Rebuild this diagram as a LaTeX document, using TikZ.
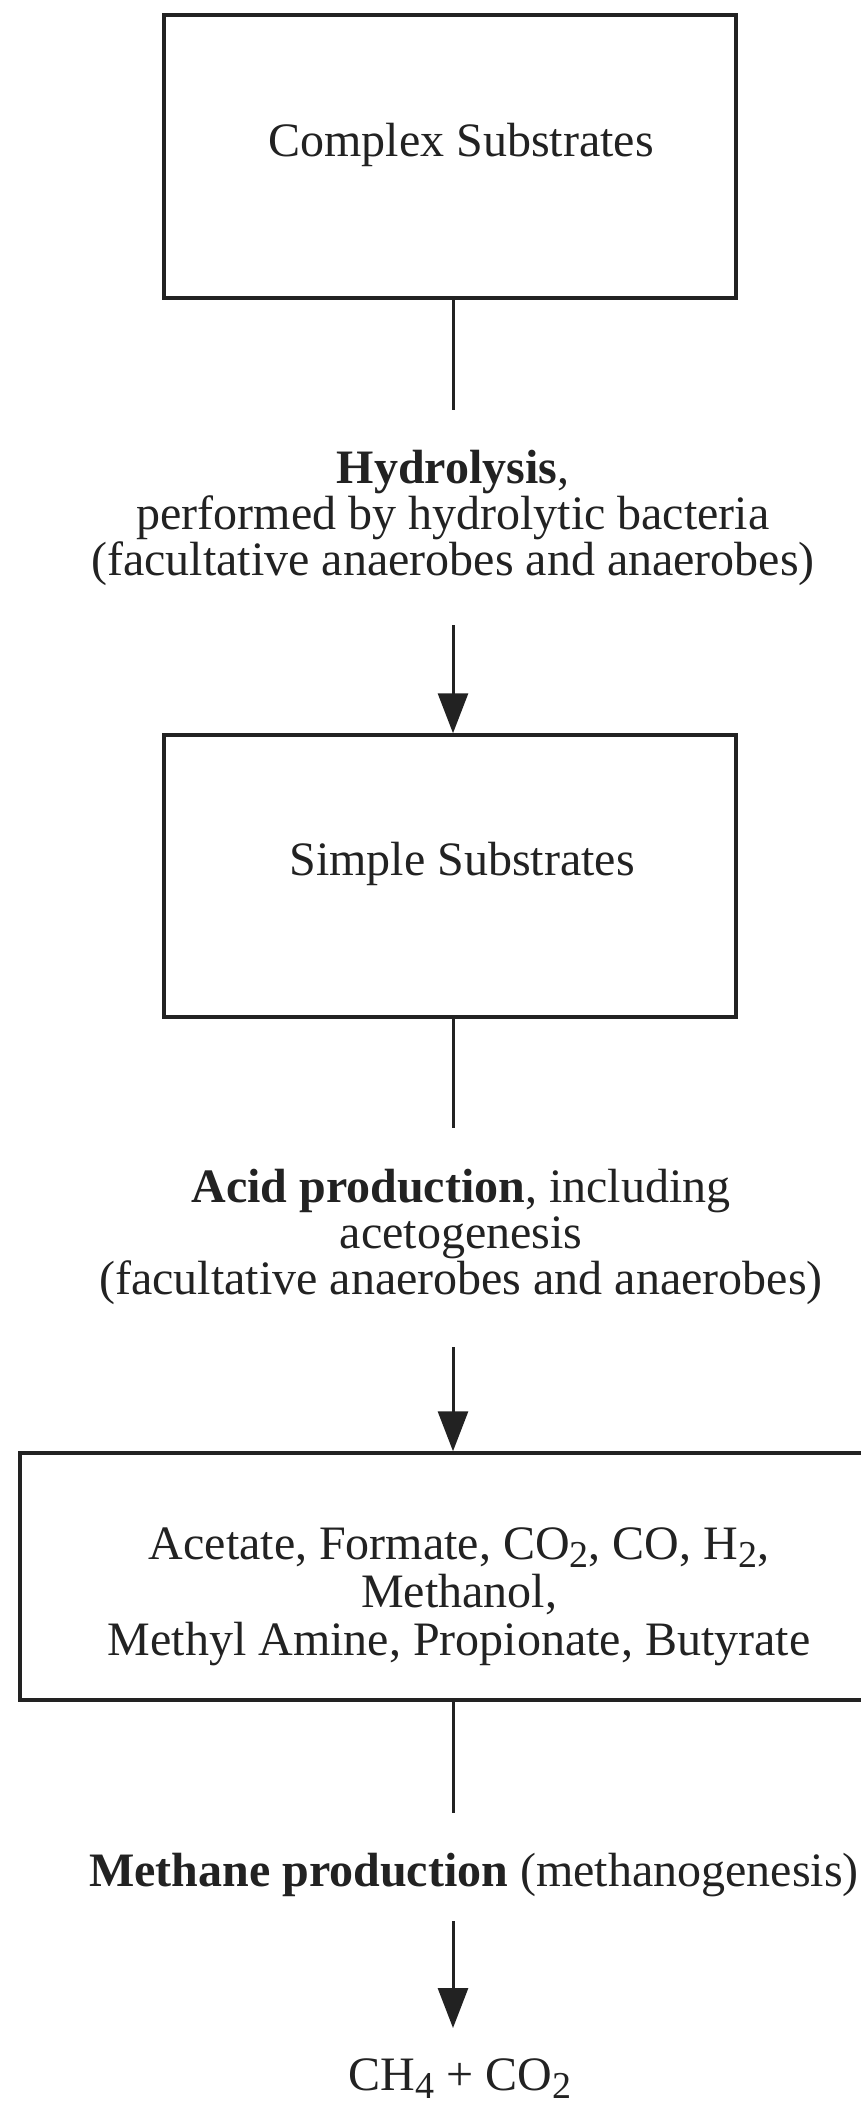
\documentclass[tikz,border=0pt]{standalone}
\usepackage{fontspec}
\setmainfont{Liberation Serif}
\usetikzlibrary{arrows.meta}
\definecolor{ink}{HTML}{222222}
\newcommand{\lowsub}[1]{\raisebox{-0.17em}{\fontsize{38}{38}\selectfont #1}}
\tikzset{
  stagebox/.style={draw=ink, line width=3.5pt, minimum width=#1, inner sep=0pt},
  txt/.style={text=ink, align=center, inner sep=0pt, font=\fontsize{48}{46}\selectfont},
  link/.style={draw=ink, line width=3pt},
  arr/.style={draw=ink, line width=3pt, -{Triangle[width=30pt,length=40pt]}}
}
\begin{document}
\begin{tikzpicture}[x=1pt,y=1pt]
\useasboundingbox (0,0) rectangle (861,-2106);
\clip (0,0) rectangle (861,-2106);
\fill[white] (0,0) rectangle (861,-2106);
% boxes
\node[stagebox=572pt, minimum height=283pt] (b1) at (450,-156.5) {};
\node[stagebox=572pt, minimum height=282pt] (b2) at (450,-876) {};
\node[stagebox=852pt, minimum height=247pt] (b3) at (446,-1576.5) {};
% box texts
\node[txt] (t1) at (461,-145) {Complex Substrates};
\node[txt] (t2) at (462,-864) {Simple Substrates};
\node[txt, font=\fontsize{48}{48}\selectfont] (t3) at (459,-1597) {Acetate, Formate, CO\lowsub{2}, CO, H\lowsub{2},\\Methanol,\\Methyl Amine, Propionate, Butyrate};
% step labels
\node[txt] (s1) at (453,-518) {\textbf{Hydrolysis},\\performed by hydrolytic bacteria\\(facultative anaerobes and anaerobes)};
\node[txt] (s2) at (461,-1237) {\textbf{Acid production}, including\\acetogenesis\\(facultative anaerobes and anaerobes)};
\node[txt] (s3) at (474,-1875) {\textbf{Methane production} (methanogenesis)};
\node[txt, anchor=base] (p) at (460,-2090) {CH\lowsub{4} + CO\lowsub{2}};
% connector ends
\coordinate (e1) at (453,-410);
\coordinate (a1) at (453,-625);
\coordinate (e2) at (453,-1128);
\coordinate (a2) at (453,-1347);
\coordinate (e3) at (453,-1813);
\coordinate (a3) at (453,-1921);
\coordinate (p3) at (453,-2028);
% connectors
\draw[link] (b1.south -| e1) -- (e1);
\draw[arr] (a1) -- (b2.north -| a1);
\draw[link] (b2.south -| e2) -- (e2);
\draw[arr] (a2) -- (b3.north -| a2);
\draw[link] (b3.south -| e3) -- (e3);
\draw[arr] (a3) -- (p3);
\end{tikzpicture}
\end{document}
